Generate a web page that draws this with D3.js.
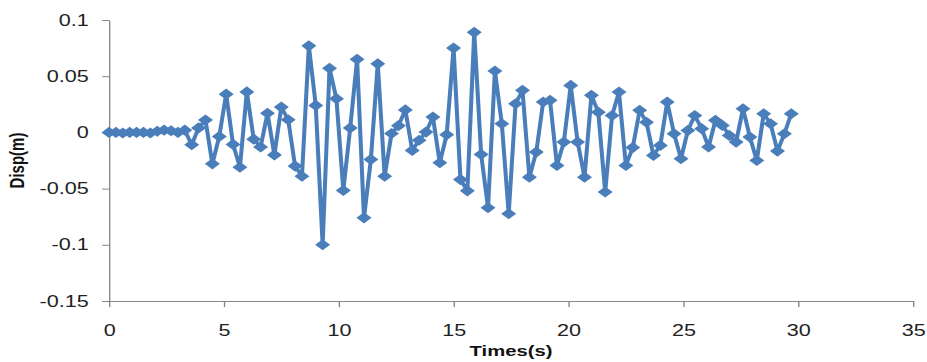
<!DOCTYPE html>
<html>
<head>
<meta charset="utf-8">
<script src="https://cdn.jsdelivr.net/npm/d3@7"></script>
<style>
  body { margin: 0; background: #ffffff; }
  .tick text { font-family: 'Liberation Sans', Arial, sans-serif; font-size: 16px; fill: #222; }
  .axis-label { font-family: 'Liberation Sans', Arial, sans-serif; font-size: 15px; font-weight: bold; fill: #111; }
</style>
</head>
<body>
<div id="disp-viz"></div>
<script>
// time of each sample (s)
const times = [
  0, 0.3, 0.6, 0.9, 1.2, 1.5, 1.8, 2.1, 2.4, 2.7,
  3, 3.3, 3.6, 3.9, 4.2, 4.5, 4.8, 5.1, 5.4, 5.7,
  6, 6.3, 6.6, 6.9, 7.2, 7.5, 7.8, 8.1, 8.4, 8.7,
  9, 9.3, 9.6, 9.9, 10.2, 10.5, 10.8, 11.1, 11.4, 11.7,
  12, 12.3, 12.6, 12.9, 13.2, 13.5, 13.8, 14.1, 14.4, 14.7,
  15, 15.3, 15.6, 15.9, 16.2, 16.5, 16.8, 17.1, 17.4, 17.7,
  18, 18.3, 18.6, 18.9, 19.2, 19.5, 19.8, 20.1, 20.4, 20.7,
  21, 21.3, 21.6, 21.9, 22.2, 22.5, 22.8, 23.1, 23.4, 23.7,
  24, 24.3, 24.6, 24.9, 25.2, 25.5, 25.8, 26.1, 26.4, 26.7,
  27, 27.3, 27.6, 27.9, 28.2, 28.5, 28.8, 29.1, 29.4, 29.7
];

// displacement (m)
const disp = [
  0, 0, -0.0005, 0, 0, 0, -0.0005, 0.001, 0.002, 0.0015,
  0, 0.002, -0.011, 0.004, 0.011, -0.028, -0.0036, 0.034, -0.0107, -0.031,
  0.036, -0.006, -0.013, 0.017, -0.020, 0.0225, 0.0113, -0.030, -0.039, 0.077,
  0.024, -0.100, 0.057, 0.030, -0.0516, 0.004, 0.065, -0.076, -0.024, 0.061,
  -0.039, -0.001, 0.006, 0.020, -0.016, -0.007, 0.0003, 0.0136, -0.027, -0.002,
  0.075, -0.042, -0.052, 0.089, -0.0196, -0.067, 0.0546, 0.0077, -0.0724, 0.0255,
  0.0374, -0.0398, -0.0175, 0.027, 0.0285, -0.0294, -0.0086, 0.0418, -0.0086, -0.0398,
  0.033, 0.018, -0.053, 0.015, 0.0359, -0.0294, -0.0135, 0.0196, 0.009, -0.0205,
  -0.0116, 0.027, -0.0012, -0.0234, 0.0018, 0.015, 0.0033, -0.013, 0.0107, 0.0062,
  -0.0027, -0.0086, 0.021, -0.0042, -0.025, 0.0166, 0.0077, -0.0166, -0.0012, 0.0166
];

const xTicks = [0, 5, 10, 15, 20, 25, 30, 35];
const yTicks = [0.1, 0.05, 0, -0.05, -0.1, -0.15];
const yTickLabels = ['0.1', '0.05', '0', '-0.05', '-0.1', '-0.15'];

const data = times.map((t, i) => ({ t: t, v: disp[i] }));

const drawDispViz = (vizElement) => {
  const totalWidth = 927;
  const totalHeight = 362;
  // the original picture is stretched sideways, so draw narrow and stretch
  const stretch = 1.35;
  const vbWidth = totalWidth / stretch;

  const xScale = d3.scaleLinear().domain([0, 35]).range([109 / stretch, 913 / stretch]);
  const yScale = d3.scaleLinear().domain([-0.15, 0.1]).range([301, 20]);

  const svg = d3
    .select(`#${vizElement}`)
    .append('svg')
    .attr('width', totalWidth)
    .attr('height', totalHeight)
    .attr('viewBox', `0 0 ${vbWidth} ${totalHeight}`)
    .attr('preserveAspectRatio', 'none');

  // x axis
  const xAxis = svg
    .append('g')
    .attr('transform', `translate(0, ${yScale(-0.15)})`)
    .call(d3.axisBottom(xScale).tickValues(xTicks).tickSize(6).tickSizeOuter(0).tickPadding(18).tickFormat((d) => `${d}`));
  xAxis.selectAll('.domain, .tick line').attr('stroke', '#868686');

  // y axis
  const yAxis = svg
    .append('g')
    .attr('transform', `translate(${xScale(0)}, 0)`)
    .call(
      d3.axisLeft(yScale).tickValues(yTicks).tickSize(5).tickSizeOuter(0).tickPadding(10)
        .tickFormat((d, i) => yTickLabels[i])
    );
  yAxis.selectAll('.domain, .tick line').attr('stroke', '#868686');

  // axis labels
  svg
    .append('text')
    .attr('class', 'axis-label')
    .attr('text-anchor', 'middle')
    .attr('x', (xScale(0) + xScale(35)) / 2)
    .attr('y', 356)
    .text('Times(s)');

  svg
    .append('text')
    .attr('class', 'axis-label')
    .attr('text-anchor', 'middle')
    .attr('dominant-baseline', 'central')
    .attr('transform', `translate(${17.5 / stretch}, ${(yScale(0.1) + yScale(-0.15)) / 2}) rotate(-90)`)
    .text('Disp(m)');

  // displacement line
  svg
    .append('path')
    .datum(data)
    .attr('fill', 'none')
    .attr('stroke', '#4a7ebb')
    .attr('stroke-width', 3)
    .attr('stroke-linejoin', 'round')
    .attr('d', d3.line().x((d) => xScale(d.t)).y((d) => yScale(d.v)));

  // diamond markers
  svg
    .append('g')
    .selectAll('path')
    .data(data)
    .join('path')
    .attr('d', d3.symbol(d3.symbolSquare).size(62))
    .attr('transform', (d) => `translate(${xScale(d.t)}, ${yScale(d.v)}) rotate(45)`)
    .attr('fill', '#4a7ebb');
};

drawDispViz('disp-viz');
</script>
</body>
</html>
